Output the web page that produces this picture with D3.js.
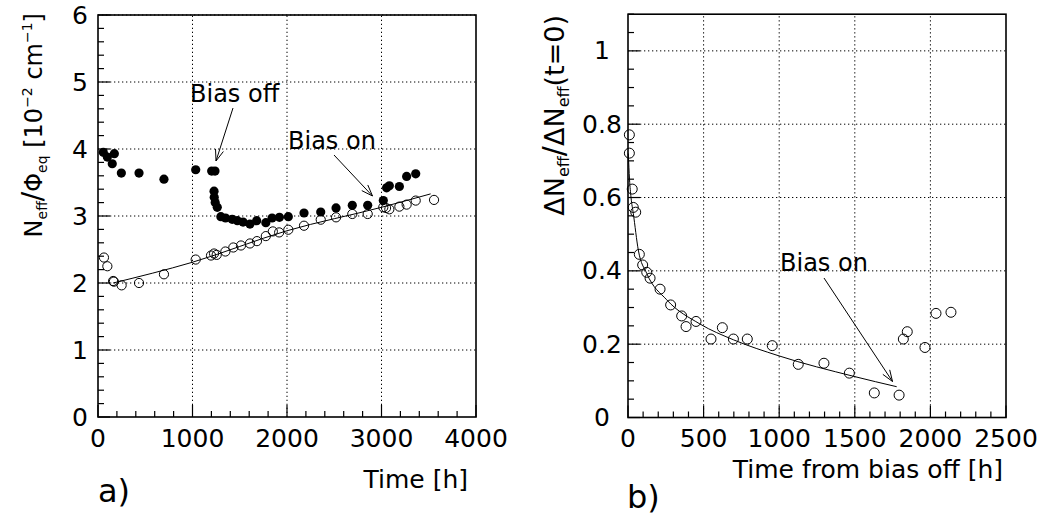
<!DOCTYPE html>
<html><head><meta charset="utf-8">
<script src="https://cdn.jsdelivr.net/npm/d3@7"></script>
<style>
html,body{margin:0;padding:0;background:#fff;}
svg text{font-family:"DejaVu Sans",sans-serif;fill:#000;}
</style></head>
<body>
<svg id="chart" width="1041" height="516"></svg>
<script>
// ---- Panel a) data ----
const aXTicks = [0, 1000, 2000, 3000, 4000];
const aYTicks = [0, 1, 2, 3, 4, 5, 6];
const biasOnT = [56, 99, 151, 173, 247, 434, 698, 1034, 1203, 1238, 1228, 1230, 1240, 1262, 1300, 1350, 1420, 1475, 1535, 1608, 1679, 1776, 1842, 1920, 2014, 2180, 2357, 2519, 2691, 2854, 3019, 3054, 3083, 3189, 3266, 3362];
const biasOnV = [3.95, 3.88, 3.78, 3.93, 3.64, 3.64, 3.55, 3.69, 3.67, 3.67, 3.37, 3.28, 3.20, 3.13, 2.99, 2.97, 2.95, 2.93, 2.91, 2.88, 2.93, 2.90, 2.97, 2.98, 2.99, 3.045, 3.06, 3.12, 3.16, 3.16, 3.23, 3.42, 3.45, 3.44, 3.59, 3.63];
const openAT = [63, 99, 160, 168, 250, 434, 698, 1034, 1196, 1228, 1256, 1348, 1432, 1513, 1608, 1682, 1776, 1850, 1917, 2014, 2180, 2357, 2519, 2691, 2854, 3019, 3048, 3083, 3189, 3266, 3362, 3556];
const openAV = [2.38, 2.25, 2.03, 2.02, 1.965, 2.0, 2.13, 2.35, 2.41, 2.44, 2.42, 2.47, 2.53, 2.56, 2.59, 2.625, 2.70, 2.77, 2.755, 2.795, 2.855, 2.945, 2.98, 3.03, 3.03, 3.13, 3.12, 3.10, 3.14, 3.17, 3.23, 3.24];
const fitAT = [160, 1000, 2000, 3000, 3520];
const fitAV = [2.0, 2.31, 2.78, 3.13, 3.33];

// ---- Panel b) data ----
const bXTicks = [0, 500, 1000, 1500, 2000, 2500];
const bYTicks = [0, 0.2, 0.4, 0.6, 0.8, 1];
const bYTickLabels = ["0", "0.2", "0.4", "0.6", "0.8", "1"];
const decayT = [9, 9, 28, 35, 51, 75, 97, 124, 146, 212, 282, 355, 384, 450, 549, 624, 697, 789, 954, 1126, 1296, 1464, 1629, 1793, 1821, 1847, 1964, 2037, 2136];
const decayV = [0.771, 0.721, 0.623, 0.573, 0.56, 0.445, 0.416, 0.396, 0.38, 0.35, 0.307, 0.277, 0.248, 0.262, 0.214, 0.245, 0.214, 0.214, 0.196, 0.145, 0.148, 0.121, 0.067, 0.061, 0.214, 0.234, 0.191, 0.284, 0.287];
const fitBT = [2, 10, 20, 35, 68, 124, 256, 476, 697, 999, 1495, 1777];
const fitBV = [0.72, 0.65, 0.60, 0.557, 0.457, 0.393, 0.321, 0.255, 0.212, 0.168, 0.112, 0.084];

const svg = d3.select("#chart");

function panel(o) {
  const g = svg.append("g");
  const x = d3.scaleLinear().domain(o.xDom).range([o.x0, o.x1]);
  const y = d3.scaleLinear().domain(o.yDom).range([o.y0, o.y1]);
  // grid
  o.xTicks.slice(1, -1).forEach(t => {
    g.append("line").attr("x1", x(t)).attr("x2", x(t)).attr("y1", o.y0).attr("y2", o.y1)
      .attr("stroke", "#000").attr("stroke-width", 1).attr("stroke-dasharray", "1.3,2.7");
  });
  o.yTicks.forEach(t => {
    if (t === o.yDom[0]) return;
    g.append("line").attr("x1", o.x0).attr("x2", o.x1).attr("y1", y(t)).attr("y2", y(t))
      .attr("stroke", "#000").attr("stroke-width", 1).attr("stroke-dasharray", "1.3,2.7");
  });
  // minor/major ticks
  const xMinor = d3.range(o.xDom[0], o.xDom[1] + 1e-9, o.xMinorStep);
  xMinor.forEach(t => {
    const major = o.xTicks.some(m => Math.abs(m - t) < 1e-6);
    g.append("line").attr("x1", x(t)).attr("x2", x(t)).attr("y1", o.y0).attr("y2", o.y0 - (major ? 12 : 6))
      .attr("stroke", "#000").attr("stroke-width", 1.2);
  });
  const yMinor = d3.range(o.yDom[0], o.yDom[1] + 1e-9, o.yMinorStep);
  yMinor.forEach(t => {
    const major = o.yTicks.some(m => Math.abs(m - t) < 1e-6);
    g.append("line").attr("x1", o.x0).attr("x2", o.x0 + (major ? 12 : 6)).attr("y1", y(t)).attr("y2", y(t))
      .attr("stroke", "#000").attr("stroke-width", 1.2);
  });
  // frame
  g.append("rect").attr("x", o.x0).attr("y", o.y1).attr("width", o.x1 - o.x0).attr("height", o.y0 - o.y1)
    .attr("fill", "none").attr("stroke", "#000").attr("stroke-width", 1.6);
  // tick labels
  o.xTicks.forEach(t => {
    g.append("text").attr("x", x(t)).attr("y", 447).attr("text-anchor", "middle")
      .attr("font-size", 25).text(d3.format("d")(t));
  });
  o.yTicks.forEach((t, i) => {
    g.append("text").attr("x", o.yLabelX).attr("y", y(t)).attr("text-anchor", "middle")
      .attr("dominant-baseline", "central").attr("font-size", 25).text(o.yTickLabels[i]);
  });
  return {g, x, y};
}

// Panel a
const A = panel({xDom: [0, 4000], yDom: [0, 6], x0: 98, x1: 476, y0: 417, y1: 15,
  xTicks: aXTicks, yTicks: aYTicks, yTickLabels: aYTicks.map(String), xMinorStep: 200, yMinorStep: 0.2, yLabelX: 80});
const lineA = d3.line().x((d, i) => A.x(fitAT[i])).y((d, i) => A.y(fitAV[i])).curve(d3.curveMonotoneX);
A.g.append("path").attr("d", lineA(fitAT)).attr("fill", "none").attr("stroke", "#000").attr("stroke-width", 1);
A.g.selectAll("circle.f").data(biasOnT).enter().append("circle")
  .attr("cx", (d) => A.x(d)).attr("cy", (d, i) => A.y(biasOnV[i])).attr("r", 4.6).attr("fill", "#000");
A.g.selectAll("circle.o").data(openAT).enter().append("circle")
  .attr("cx", (d) => A.x(d)).attr("cy", (d, i) => A.y(openAV[i])).attr("r", 4.6)
  .attr("fill", "none").attr("stroke", "#000").attr("stroke-width", 1);

// Panel b
const B = panel({xDom: [0, 2500], yDom: [0, 1.1], x0: 628, x1: 1006, y0: 417.5, y1: 14.2,
  xTicks: bXTicks, yTicks: bYTicks, yTickLabels: bYTickLabels, xMinorStep: 100, yMinorStep: 0.05, yLabelX: 602});
const lineB = d3.line().x((d, i) => B.x(fitBT[i])).y((d, i) => B.y(fitBV[i])).curve(d3.curveMonotoneX);
B.g.append("path").attr("d", lineB(fitBT)).attr("fill", "none").attr("stroke", "#000").attr("stroke-width", 1);
B.g.selectAll("circle.o").data(decayT).enter().append("circle")
  .attr("cx", (d) => B.x(d)).attr("cy", (d, i) => B.y(decayV[i])).attr("r", 5)
  .attr("fill", "none").attr("stroke", "#000").attr("stroke-width", 1);

// arrows
function arrow(x1, y1, x2, y2) {
  svg.append("line").attr("x1", x1).attr("y1", y1).attr("x2", x2).attr("y2", y2)
    .attr("stroke", "#000").attr("stroke-width", 1);
  const ang = Math.atan2(y2 - y1, x2 - x1), L = 12, w = 0.35;
  const p = [[x2 - L * Math.cos(ang - w), y2 - L * Math.sin(ang - w)], [x2, y2],
             [x2 - L * Math.cos(ang + w), y2 - L * Math.sin(ang + w)]];
  svg.append("path").attr("d", d3.line()(p)).attr("fill", "none").attr("stroke", "#000").attr("stroke-width", 1);
}
svg.append("text").attr("x", 190).attr("y", 102).attr("font-size", 24).text("Bias off");
arrow(233, 108, 216, 161);
svg.append("text").attr("x", 288).attr("y", 149).attr("font-size", 24).text("Bias on");
arrow(334, 155, 372.5, 196);
svg.append("text").attr("x", 780).attr("y", 271).attr("font-size", 24).text("Bias on");
arrow(824, 278, 892.5, 381.5);

// axis titles
svg.append("text").attr("x", 468).attr("y", 488).attr("text-anchor", "end").attr("font-size", 25).text("Time [h]");
svg.append("text").attr("x", 1003).attr("y", 478).attr("text-anchor", "end").attr("font-size", 25).text("Time from bias off [h]");
svg.append("text").attr("x", 98).attr("y", 502).attr("font-size", 32).text("a)");
svg.append("text").attr("x", 627).attr("y", 508).attr("font-size", 32).text("b)");

// y titles
const ta = svg.append("text").attr("transform", "translate(42,13) rotate(-90)").attr("text-anchor", "end").attr("font-size", 24);
ta.append("tspan").text("N");
ta.append("tspan").attr("font-size", 14).attr("dy", 5).text("eff");
ta.append("tspan").attr("dy", -5).attr("font-size", 28).text("/");
ta.append("tspan").text("\u03A6");
ta.append("tspan").attr("font-size", 14).attr("dy", 5).text("eq");
ta.append("tspan").attr("dy", -5).text(" [10");
ta.append("tspan").attr("font-size", 14).attr("dy", -10).text("\u22122");
ta.append("tspan").attr("dy", 10).text(" cm");
ta.append("tspan").attr("font-size", 14).attr("dy", -10).text("\u22121");
ta.append("tspan").attr("dy", 10).text("]");

const tb = svg.append("text").attr("transform", "translate(564,15) rotate(-90)").attr("text-anchor", "end").attr("font-size", 27);
tb.append("tspan").text("\u0394N");
tb.append("tspan").attr("font-size", 16).attr("dy", 5).text("eff");
tb.append("tspan").attr("dy", -5).attr("font-size", 30).text("/");
tb.append("tspan").text("\u0394N");
tb.append("tspan").attr("font-size", 16).attr("dy", 5).text("eff");
tb.append("tspan").attr("dy", -5).text("(t=0)");
</script>
</body></html>
